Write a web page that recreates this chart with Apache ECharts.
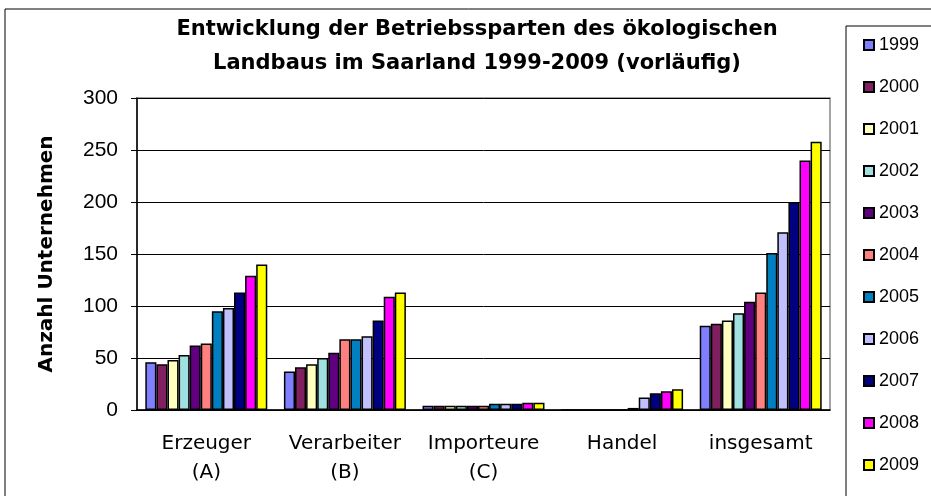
<!DOCTYPE html>
<html lang="de">
<head>
<meta charset="UTF-8">
<title>Betriebssparten Saarland</title>
<script src="https://cdn.jsdelivr.net/npm/echarts@6/dist/echarts.min.js"></script>
<style>
  html, body { margin: 0; padding: 0; background: #fff; }
  #chart { width: 931px; height: 496px; }
</style>
</head>
<body>
<div id="chart"></div>
<script>
// Daten
var categories = ['Erzeuger\n(A)', 'Verarbeiter\n(B)', 'Importeure\n(C)', 'Handel', 'insgesamt'];
var years = ['1999', '2000', '2001', '2002', '2003', '2004', '2005', '2006', '2007', '2008', '2009'];
var erzeuger    = [46, 44, 48, 53, 62, 64, 95, 98, 113, 129, 140];
var verarbeiter = [37, 41, 44, 50, 55, 68, 68, 71, 86, 109, 113];
var importeure  = [4, 4, 4, 4, 4, 4, 6, 6, 6, 7, 7];
var handel      = [0, 0, 0, 0, 0, 0, 2, 12, 16, 18, 20];
var insgesamt   = [81, 83, 86, 93, 104, 113, 151, 171, 200, 240, 258];
var colors = ['#8080FF', '#802060', '#FFFFC0', '#A0E0E0', '#600080', '#FF8080',
              '#0080C0', '#C0C0FF', '#000080', '#FF00FF', '#FFFF00'];

var chart = echarts.init(document.getElementById('chart'));
var font = 'Liberation Sans';

var series = years.map(function (y, i) {
    return {
        name: y,
        type: 'bar',
        barGap: '0%',
        barCategoryGap: '12%',
        itemStyle: { color: colors[i], borderColor: '#000', borderWidth: 1.5 },
        data: [erzeuger[i], verarbeiter[i], importeure[i], handel[i], insgesamt[i]]
    };
});

var option = {
    animation: false,
    title: {
        text: 'Entwicklung der Betriebssparten des ökologischen\nLandbaus im Saarland 1999-2009 (vorläufig)',
        left: 472,
        textAlign: 'center',
        top: 8,
        textStyle: { fontFamily: 'DejaVu Sans', fontWeight: 'bold', fontSize: 21, lineHeight: 34, color: '#000' }
    },
    legend: {
        orient: 'vertical',
        left: 858,
        top: 31,
        itemWidth: 10,
        itemHeight: 10,
        itemGap: 24,
        icon: 'rect',
        data: years,
        textStyle: { fontFamily: font, fontSize: 18, lineHeight: 18, color: '#000' }
    },
    grid: {
        left: 137, right: 101, top: 98, bottom: 86,
        show: true, borderColor: '#888', borderWidth: 1.5
    },
    xAxis: {
        type: 'category',
        data: categories,
        axisLine: { lineStyle: { color: '#000', width: 1.5 } },
        axisTick: { length: 6, lineStyle: { color: '#000' } },
        axisLabel: { interval: 0, fontFamily: 'DejaVu Sans', fontSize: 20, lineHeight: 29, color: '#000', margin: 19 }
    },
    yAxis: {
        type: 'value',
        min: 0, max: 300, interval: 50,
        name: 'Anzahl Unternehmen',
        nameLocation: 'middle',
        nameGap: 80,
        nameTextStyle: { fontFamily: 'DejaVu Sans', fontWeight: 'bold', fontSize: 20, color: '#000' },
        axisLine: { show: true, lineStyle: { color: '#000', width: 1.5 } },
        axisTick: { show: true, length: 6, lineStyle: { color: '#000' } },
        axisLabel: { fontFamily: font, fontSize: 21, color: '#000', margin: 19 },
        splitLine: { lineStyle: { color: '#000', width: 1 } }
    },
    graphic: [
        { type: 'rect', shape: { x: 5, y: 9, width: 1000, height: 1000 },
          style: { fill: null, stroke: '#000', lineWidth: 1 }, z: -1 },
        { type: 'rect', shape: { x: 846, y: 26, width: 200, height: 600 },
          style: { fill: null, stroke: '#000', lineWidth: 1 }, z: -1 }
    ],
    series: series
};
chart.setOption(option);
</script>
</body>
</html>
